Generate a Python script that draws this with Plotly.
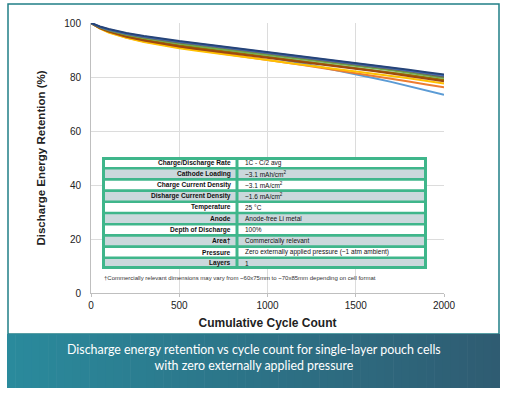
import plotly.graph_objects as go

# ---------------- data ----------------
cycles = [0, 50, 100, 150, 200, 300, 400, 500, 600, 700, 800, 900, 1000,
          1100, 1200, 1300, 1400, 1500, 1600, 1700, 1800, 1900, 2000]

series_names = ["Cell 1", "Cell 2", "Cell 3", "Cell 4", "Cell 5",
                "Cell 6", "Cell 7", "Cell 8", "Cell 9", "Cell 10"]
series_colors = ["#5b9bd5", "#ed7d31", "#ffc000", "#a5a5a5", "#997300",
                 "#9e480e", "#70ad47", "#636363", "#4472c4", "#264478"]

cell_1 = [100, 98.2, 97.0, 96.0, 95.2, 94.0, 92.9, 92.0, 91.1, 90.3, 89.4, 88.5, 87.4,
          86.3, 85.0, 83.7, 82.4, 81.0, 79.6, 78.2, 76.6, 75.1, 73.4]
cell_2 = [100, 98.0, 96.6, 95.5, 94.6, 93.1, 91.9, 90.9, 90.0, 89.1, 88.2, 87.2, 86.2,
          85.3, 84.4, 83.4, 82.4, 81.5, 80.5, 79.4, 78.3, 77.2, 76.2]
cell_3 = [100, 98.0, 96.5, 95.4, 94.5, 93.0, 91.7, 90.6, 89.7, 88.9, 88.0, 87.1, 86.3,
          85.4, 84.6, 83.8, 83.0, 82.2, 81.3, 80.4, 79.5, 78.6, 77.6]
cell_4 = [100, 98.3, 97.1, 96.1, 95.3, 94.0, 92.9, 91.9, 91.0, 90.2, 89.3, 88.5, 87.6,
          86.8, 85.9, 85.1, 84.3, 83.5, 82.6, 81.7, 80.8, 79.9, 78.9]
cell_5 = [100, 98.2, 97.0, 96.0, 95.2, 93.8, 92.7, 91.7, 90.8, 89.9, 89.0, 88.2, 87.4,
          86.6, 85.8, 85.0, 84.2, 83.4, 82.5, 81.6, 80.7, 79.8, 78.9]
cell_6 = [100, 98.1, 96.8, 95.8, 94.9, 93.5, 92.3, 91.3, 90.4, 89.6, 88.8, 88.0, 87.2,
          86.4, 85.6, 84.8, 84.0, 83.2, 82.2, 81.3, 80.4, 79.5, 78.4]
cell_7 = [100, 98.4, 97.3, 96.4, 95.6, 94.4, 93.3, 92.4, 91.5, 90.7, 89.9, 89.1, 88.3,
          87.5, 86.7, 85.9, 85.1, 84.3, 83.4, 82.5, 81.6, 80.6, 79.6]
cell_8 = [100, 98.5, 97.5, 96.6, 95.9, 94.7, 93.7, 92.8, 92.0, 91.2, 90.4, 89.6, 88.8,
          88.0, 87.2, 86.4, 85.6, 84.8, 83.9, 83.0, 82.1, 81.1, 80.1]
cell_9 = [100, 98.6, 97.6, 96.8, 96.1, 95.0, 94.0, 93.1, 92.3, 91.5, 90.7, 89.9, 89.1,
          88.3, 87.5, 86.7, 85.9, 85.1, 84.2, 83.3, 82.4, 81.5, 80.6]
cell_10 = [100, 98.7, 97.8, 97.0, 96.3, 95.2, 94.2, 93.3, 92.5, 91.7, 90.9, 90.1, 89.3,
           88.5, 87.7, 86.9, 86.1, 85.3, 84.5, 83.6, 82.7, 81.8, 80.9]
series_values = [cell_1, cell_2, cell_3, cell_4, cell_5,
                 cell_6, cell_7, cell_8, cell_9, cell_10]

x_ticks = [0, 500, 1000, 1500, 2000]
y_ticks = [0, 20, 40, 60, 80, 100]

table_labels = ["Charge/Discharge Rate", "Cathode Loading", "Charge Current Density",
                "Disharge Current Density", "Temperature", "Anode",
                "Depth of Discharge", "Area†", "Pressure", "Layers"]
table_values = ["1C - C/2 avg", "~3.1 mAh/cm<sup>2</sup>", "~3.1 mA/cm<sup>2</sup>",
                "~1.6 mA/cm<sup>2</sup>", "25 °C", "Anode-free Li metal", "100%",
                "Commercially relevant",
                "Zero externally applied pressure (~1 atm ambient)", "1"]
footnote = "†Commercially relevant dimensions may vary from ~60x75mm to ~70x85mm depending on cell format"
caption = "Discharge energy retention vs cycle count for single-layer pouch cells<br>with zero externally applied pressure"

# ---------------- layout helpers ----------------
W, H = 507, 395
L, R, T, B = 91, 444, 23, 293   # plot area in px


def px(xp):
    return (xp - L) / (R - L)


def py(yp):
    return (B - yp) / (B - T)


FONT = "Liberation Sans, Arial, sans-serif"

fig = go.Figure()

for name, color, vals in zip(series_names, series_colors, series_values):
    fig.add_trace(go.Scatter(x=cycles, y=vals, name=name, mode="lines",
                             line=dict(color=color, width=2), showlegend=False))

shapes = []
annotations = []

# outer frame
shapes.append(dict(type="rect", xref="paper", yref="paper",
                   x0=px(8), x1=px(499), y0=py(334), y1=py(4),
                   line=dict(color="#217f86", width=1.5), fillcolor="rgba(0,0,0,0)",
                   layer="below"))
# banner gradient
c0 = (0x2a, 0x8a, 0x9c)
c1 = (0x2f, 0x5c, 0x72)
N = 60
x_start, x_end = 7, 500
for i in range(N):
    t = i / (N - 1)
    col = "rgb(%d,%d,%d)" % tuple(round(a + (b - a) * t) for a, b in zip(c0, c1))
    xa = x_start + (x_end - x_start) * i / N
    xb = x_start + (x_end - x_start) * (i + 1) / N + 0.6
    shapes.append(dict(type="rect", xref="paper", yref="paper",
                       x0=px(xa), x1=px(min(xb, x_end)), y0=py(388), y1=py(334),
                       line=dict(width=0), fillcolor=col, layer="below"))

# parameter table (drawn with shapes + text)
green = "#3fb68b"
tx0, tx1, tsep = 102, 427, 237
ty0, ty1 = 157, 269
n = len(table_labels)
rh = (ty1 - ty0) / n
shapes.append(dict(type="rect", xref="paper", yref="paper",
                   x0=px(tx0), x1=px(tx1), y0=py(ty1), y1=py(ty0),
                   line=dict(width=0), fillcolor=green, layer="above"))
outer, inner = 3.0, 1.3
for i in range(n):
    fill = "#ffffff" if i % 2 == 0 else "#cbd8dc"
    ya = ty0 + i * rh + (outer if i == 0 else inner)
    yb = ty0 + (i + 1) * rh - (outer if i == n - 1 else inner)
    for xa, xb in ((tx0 + outer, tsep - 1.5), (tsep + 1.5, tx1 - outer)):
        shapes.append(dict(type="rect", xref="paper", yref="paper",
                           x0=px(xa), x1=px(xb), y0=py(yb), y1=py(ya),
                           line=dict(width=0), fillcolor=fill, layer="above"))
    yc = ty0 + (i + 0.5) * rh
    annotations.append(dict(text="<b>" + table_labels[i] + "</b>", xref="paper",
                            yref="paper", x=px(232.5), y=py(yc), xanchor="right",
                            yanchor="middle", showarrow=False,
                            font=dict(family=FONT, size=6.6, color="#111111")))
    annotations.append(dict(text=table_values[i], xref="paper",
                            yref="paper", x=px(243), y=py(yc), xanchor="left",
                            yanchor="middle", showarrow=False,
                            font=dict(family=FONT, size=6.5, color="#111111")))

annotations += [
    dict(text=footnote, xref="paper", yref="paper", x=px(102), y=py(277.5),
         xanchor="left", yanchor="middle", showarrow=False,
         font=dict(family=FONT, size=6, color="#333333")),
    dict(text=caption, xref="paper", yref="paper", x=px(253.5), y=py(357),
         xanchor="center", yanchor="middle", showarrow=False,
         font=dict(family="Lato, sans-serif", size=12.4, color="#ffffff")),
]

fig.update_layout(
    width=W, height=H,
    margin=dict(l=L, r=W - R, t=T, b=H - B, pad=0),
    paper_bgcolor="white", plot_bgcolor="white",
    font=dict(family=FONT, size=10, color="#333333"),
    shapes=shapes, annotations=annotations,
    hovermode=False,
    xaxis=dict(range=[0, 2000], tickvals=x_ticks, showgrid=True, gridcolor="#dcdcdc",
               gridwidth=1, showline=True, linecolor="#bfbfbf", linewidth=1,
               ticks="outside", ticklen=3, tickcolor="#bfbfbf", zeroline=False,
               tickfont=dict(size=10, color="#222222"),
               title=dict(text="<b>Cumulative Cycle Count</b>", standoff=8,
                          font=dict(size=12, color="#222222"))),
    yaxis=dict(range=[0, 100], tickvals=y_ticks, showgrid=True, gridcolor="#dcdcdc",
               gridwidth=1, showline=True, linecolor="#bfbfbf", linewidth=1,
               ticks="", zeroline=False, ticklabelstandoff=7,
               tickfont=dict(size=10, color="#222222"),
               title=dict(text="<b>Discharge Energy Retention (%)</b>", standoff=16,
                          font=dict(size=11.5, color="#222222"))),
)

fig.write_html("out.html", config={"displayModeBar": False, "staticPlot": True},
               post_script="document.body.style.margin='0';document.body.style.overflow='hidden';")
